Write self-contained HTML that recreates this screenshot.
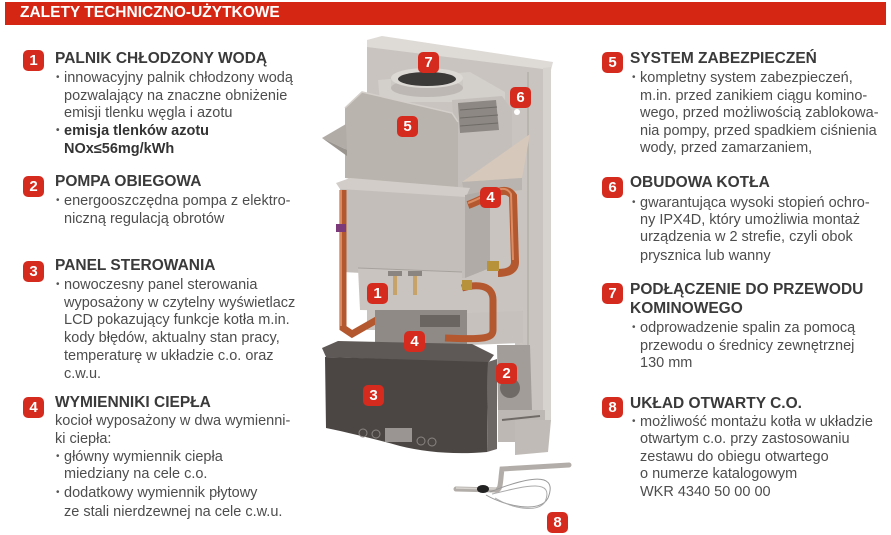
<!DOCTYPE html>
<html><head><meta charset="utf-8">
<style>
*{margin:0;padding:0;box-sizing:border-box}
html,body{width:891px;height:535px;background:#fff;overflow:hidden}
body{position:relative;font-family:"Liberation Sans",sans-serif}
.bar{position:absolute;left:5px;top:2px;width:881px;height:23px;background:#d52614}
.bt{position:absolute;left:20px;top:4px;font-size:15.5px;font-weight:bold;color:#fff;line-height:18px;white-space:nowrap}
.h{position:absolute;font-size:15.5px;font-weight:bold;color:#3a3a3a;line-height:18px;white-space:nowrap}
.l{position:absolute;font-size:14.5px;color:#4d4d4d;line-height:18px;white-space:nowrap}
.l.b{font-weight:bold;color:#333}
.bu{position:absolute;left:-8px;top:0;font-size:10px;color:#555}
.bg{position:absolute;width:21px;height:21px;border-radius:5px;background:#d52b1e;color:#fff;font-weight:bold;font-size:15px;line-height:21px;text-align:center}
svg{position:absolute;left:0;top:0}
</style></head><body>
<svg width="891" height="535" viewBox="0 0 891 535">
<!-- frame -->
<polygon points="367,44 551,67 551,420 515,420 515,330 367,330" fill="#c9c4bf"/>
<polygon points="367,40 382,36 553,62 551,70 367,47" fill="#dedad6"/>
<polygon points="543,68 551,67 551,420 543,420" fill="#d6d2ce"/>
<line x1="528" y1="72" x2="528" y2="415" stroke="#b3aea9" stroke-width="1.5"/>
<circle cx="517" cy="112" r="3" fill="#fff"/>
<circle cx="517" cy="158" r="3" fill="#fff"/>
<!-- flue box -->
<polygon points="378,80 470,72 505,92 505,102 380,102" fill="#d3cfcb"/>
<!-- fan housing -->
<polygon points="452,100 502,96 512,110 512,185 458,190" fill="#c4bfba"/>
<polygon points="458,103 496,100 499,130 460,133" fill="#8d8883"/>
<line x1="460" y1="110" x2="497" y2="107" stroke="#6e6a66"/>
<line x1="460" y1="118" x2="498" y2="115" stroke="#6e6a66"/>
<line x1="460" y1="126" x2="498" y2="123" stroke="#6e6a66"/>
<!-- right tray -->
<polygon points="462,182 530,134 522,178" fill="#d6c8ba"/>
<polygon points="462,182 522,178 522,190 465,196" fill="#b9b4af"/>
<!-- flue collar -->
<rect x="391" y="78" width="72" height="10" fill="#cdc9c5"/>
<ellipse cx="427" cy="88" rx="36" ry="9" fill="#bdb8b3"/>
<ellipse cx="427" cy="78" rx="36" ry="10" fill="#dcd8d4"/>
<ellipse cx="427" cy="79" rx="29" ry="7" fill="#3c3a39"/>
<!-- upper box -->
<polygon points="345,108 362,92 452,113 458,122 458,190 345,178" fill="#bab4ae"/>
<polyline points="345,108 362,92 452,113 458,122" fill="none" stroke="#d4cfca" stroke-width="1.5"/>
<!-- left wing -->
<polygon points="322,138 346,124 347,150" fill="#b2aca6"/>
<polygon points="322,138 347,150 347,156" fill="#9a948f"/>
<!-- lower box -->
<polygon points="340,185 465,195 465,278 342,272" fill="#c3beb9"/>
<polygon points="336,183 350,178 470,188 466,197 340,189" fill="#d2cdc8"/>
<polygon points="465,195 490,190 490,268 465,278" fill="#b0aba6"/>
<!-- copper pipes -->
<path d="M468 205 C488 198,505 183,513 196 L515 262 C515 270,508 273,498 273" fill="none" stroke="#b4582f" stroke-width="8"/>
<path d="M468 203 C488 196,504 181,511 194 L513 260" fill="none" stroke="#db8c63" stroke-width="2"/>
<path d="M343 190 L343 328 L352 334 L380 318 L383 346" fill="none" stroke="#b4582f" stroke-width="7"/>
<path d="M341 190 L341 326" fill="none" stroke="#d98a62" stroke-width="2"/>
<rect x="487" y="261" width="12" height="10" fill="#b8923a"/>
<rect x="336" y="224" width="10" height="8" fill="#7c3a7a"/>
<!-- burner -->
<polygon points="358,268 462,272 462,312 360,310" fill="#c9c4bf"/>
<line x1="358" y1="268" x2="462" y2="272" stroke="#a7a29d"/>
<rect x="393" y="275" width="4" height="20" fill="#c7a36a"/>
<rect x="413" y="275" width="4" height="20" fill="#c7a36a"/>
<rect x="388" y="271" width="14" height="5" fill="#8a8580"/>
<rect x="408" y="271" width="14" height="5" fill="#8a8580"/>
<!-- below burner -->
<rect x="375" y="310" width="92" height="36" fill="#8f8a86"/>
<rect x="420" y="315" width="40" height="12" fill="#6a6561"/>
<polygon points="467,313 523,311 523,343 467,345" fill="#c6c1bc"/>
<path d="M462 288 C476 284,493 284,493 300 L493 330 C493 338,486 340,445 338" fill="none" stroke="#b4582f" stroke-width="7"/>
<rect x="462" y="280" width="10" height="10" fill="#b8923a"/>
<!-- housing lid & front -->
<polygon points="322,348 338,341 472,344 494,355 488,363 326,357" fill="#5e5856"/>
<path d="M325 357 L488 362 L487 452 C455 455,425 452,400 446 C378 440,355 434,326 428 Z" fill="#4b4644"/>
<polygon points="488,362 497,359 497,449 487,452" fill="#6c6664"/>
<circle cx="363" cy="433" r="4" fill="none" stroke="#8a8482" stroke-width="1"/>
<circle cx="376" cy="434" r="4" fill="none" stroke="#8a8482" stroke-width="1"/>
<rect x="385" y="428" width="27" height="14" fill="#9a9593"/>
<circle cx="421" cy="441" r="4" fill="none" stroke="#8a8482" stroke-width="1"/>
<circle cx="432" cy="442" r="4" fill="none" stroke="#8a8482" stroke-width="1"/>
<!-- pump -->
<polygon points="497,345 530,345 532,410 498,410" fill="#a29d98"/>
<circle cx="510" cy="388" r="10" fill="#6f6a66"/>
<rect x="498" y="410" width="47" height="32" fill="#bdb8b3"/>
<line x1="502" y1="420" x2="540" y2="416" stroke="#6f6a66" stroke-width="2"/>
<polygon points="515,420 551,420 548,452 515,455" fill="#c0bbb6"/>
<!-- accessory 8 -->
<path d="M456 489 L496 490 C501 490,500 484,502 469 L569 465" fill="none" stroke="#b2ada8" stroke-width="5" stroke-linecap="round"/>
<path d="M456 488 L496 489" fill="none" stroke="#d8d4d0" stroke-width="1.5"/>
<ellipse cx="483" cy="489" rx="6" ry="4" fill="#222"/>
<path d="M490 492 C520 480,560 468,548 498 C540 514,505 506,486 495" fill="none" stroke="#999" stroke-width="1"/>
<path d="M492 494 C525 486,555 478,545 502 C538 512,515 510,495 498" fill="none" stroke="#aaa" stroke-width="1"/>
</svg>

<div class="bar"></div>
<div class="bt">ZALETY TECHNICZNO-UŻYTKOWE</div>

<!-- left column -->
<div class="bg" style="left:23px;top:50px">1</div>
<div class="h" style="left:55px;top:50px">PALNIK CHŁODZONY WODĄ</div>
<div class="l" style="left:64px;top:69px"><span class="bu">•</span>innowacyjny palnik chłodzony wodą</div>
<div class="l" style="left:64px;top:86.5px">pozwalający na znaczne obniżenie</div>
<div class="l" style="left:64px;top:104px">emisji tlenku węgla i azotu</div>
<div class="l b" style="left:64px;top:122px"><span class="bu">•</span>emisja tlenków azotu</div>
<div class="l b" style="left:64px;top:139.5px">NOx≤56mg/kWh</div>

<div class="bg" style="left:23px;top:176px">2</div>
<div class="h" style="left:55px;top:173px">POMPA OBIEGOWA</div>
<div class="l" style="left:64px;top:192px"><span class="bu">•</span>energooszczędna pompa z elektro-</div>
<div class="l" style="left:64px;top:209.5px">niczną regulacją obrotów</div>

<div class="bg" style="left:23px;top:261px">3</div>
<div class="h" style="left:55px;top:257px">PANEL STEROWANIA</div>
<div class="l" style="left:64px;top:276px"><span class="bu">•</span>nowoczesny panel sterowania</div>
<div class="l" style="left:64px;top:293.7px">wyposażony w czytelny wyświetlacz</div>
<div class="l" style="left:64px;top:311px">LCD pokazujący funkcje kotła m.in.</div>
<div class="l" style="left:64px;top:329px">kody błędów, aktualny stan pracy,</div>
<div class="l" style="left:64px;top:347px">temperaturę w układzie c.o. oraz</div>
<div class="l" style="left:64px;top:365px">c.w.u.</div>

<div class="bg" style="left:23px;top:397px">4</div>
<div class="h" style="left:55px;top:393.6px">WYMIENNIKI CIEPŁA</div>
<div class="l" style="left:55px;top:411.7px">kocioł wyposażony w dwa wymienni-</div>
<div class="l" style="left:55px;top:430px">ki ciepła:</div>
<div class="l" style="left:64px;top:447.7px"><span class="bu">•</span>główny wymiennik ciepła</div>
<div class="l" style="left:64px;top:465.3px">miedziany na cele c.o.</div>
<div class="l" style="left:64px;top:483.7px"><span class="bu">•</span>dodatkowy wymiennik płytowy</div>
<div class="l" style="left:64px;top:503px">ze stali nierdzewnej na cele c.w.u.</div>

<!-- right column -->
<div class="bg" style="left:602px;top:52px">5</div>
<div class="h" style="left:630px;top:49.6px">SYSTEM ZABEZPIECZEŃ</div>
<div class="l" style="left:640px;top:68.5px"><span class="bu">•</span>kompletny system zabezpieczeń,</div>
<div class="l" style="left:640px;top:86.7px">m.in. przed zanikiem ciągu komino-</div>
<div class="l" style="left:640px;top:104.3px">wego, przed możliwością zablokowa-</div>
<div class="l" style="left:640px;top:121.7px">nia pompy, przed spadkiem ciśnienia</div>
<div class="l" style="left:640px;top:139.3px">wody, przed zamarzaniem,</div>

<div class="bg" style="left:602px;top:177px">6</div>
<div class="h" style="left:630px;top:173.6px">OBUDOWA KOTŁA</div>
<div class="l" style="left:640px;top:193.7px"><span class="bu">•</span>gwarantująca wysoki stopień ochro-</div>
<div class="l" style="left:640px;top:211.3px">ny IPX4D, który umożliwia montaż</div>
<div class="l" style="left:640px;top:228.3px">urządzenia w 2 strefie, czyli obok</div>
<div class="l" style="left:640px;top:246.7px">prysznica lub wanny</div>

<div class="bg" style="left:602px;top:283px">7</div>
<div class="h" style="left:630px;top:281.3px">PODŁĄCZENIE DO PRZEWODU</div>
<div class="h" style="left:630px;top:300px">KOMINOWEGO</div>
<div class="l" style="left:640px;top:319.3px"><span class="bu">•</span>odprowadzenie spalin za pomocą</div>
<div class="l" style="left:640px;top:337px">przewodu o średnicy zewnętrznej</div>
<div class="l" style="left:640px;top:354.3px">130 mm</div>

<div class="bg" style="left:602px;top:397px">8</div>
<div class="h" style="left:630px;top:395px">UKŁAD OTWARTY C.O.</div>
<div class="l" style="left:640px;top:412.7px"><span class="bu">•</span>możliwość montażu kotła w układzie</div>
<div class="l" style="left:640px;top:430.3px">otwartym c.o. przy zastosowaniu</div>
<div class="l" style="left:640px;top:447.7px">zestawu do obiegu otwartego</div>
<div class="l" style="left:640px;top:465px">o numerze katalogowym</div>
<div class="l" style="left:640px;top:482.7px">WKR 4340 50 00 00</div>

<!-- image badges -->
<div class="bg" style="left:418px;top:52px">7</div>
<div class="bg" style="left:510px;top:87px">6</div>
<div class="bg" style="left:397px;top:116px">5</div>
<div class="bg" style="left:480px;top:187px">4</div>
<div class="bg" style="left:367px;top:283px">1</div>
<div class="bg" style="left:404px;top:331px">4</div>
<div class="bg" style="left:363px;top:385px">3</div>
<div class="bg" style="left:496px;top:363px">2</div>
<div class="bg" style="left:547px;top:512px">8</div>
</body></html>
